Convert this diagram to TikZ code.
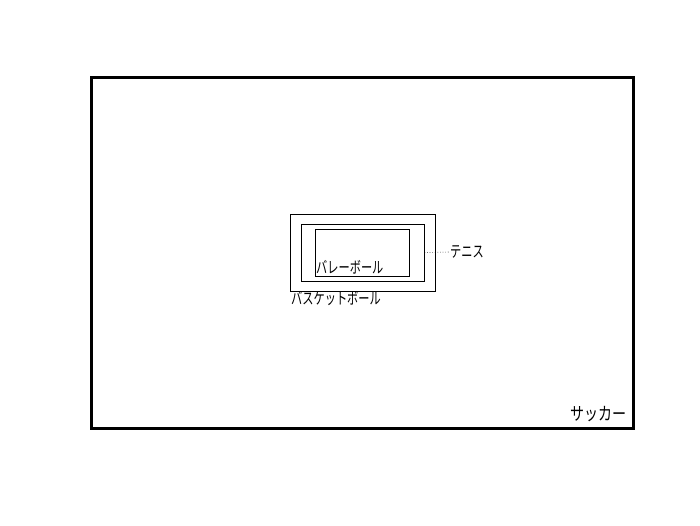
\documentclass[tikz,border=0pt]{standalone}
\usepackage{fontspec}
\newfontfamily\jp[FakeStretch=0.7]{Noto Sans CJK JP}
\newfontfamily\jpb[FakeStretch=0.78]{Noto Sans CJK JP}
\begin{document}
\begin{tikzpicture}[x=1pt,y=-1pt,
  setbox/.style={draw=black,line width=1pt,inner sep=0pt,minimum width=#1},
  lbl/.style={font=\jp\fontsize{16}{16}\selectfont,inner sep=0pt,anchor=west},
  biglbl/.style={font=\jpb\fontsize{18}{18}\selectfont,inner sep=0pt,anchor=west}]
\useasboundingbox (0,0) rectangle (700,525);
\node (soccer) [draw=black,line width=3pt,inner sep=0pt,minimum width=542pt,minimum height=351pt] at (362,252.5) {};
\node (basket) [setbox=145pt,minimum height=77pt,line width=0.8pt] at (362.5,252.5) {};
\node (tennis) [setbox=123pt,minimum height=57pt,line width=1pt] at (362.5,252.5) {};
\node (volley) [setbox=94pt,minimum height=47pt,line width=0.9pt] at (362,252.5) {};
\node (volleyl) [lbl] at (316,267) {バレーボール};
\node (basketl) [lbl] at (291,299) {バスケットボール};
\node (tennisl) [lbl] at (450,252) {テニス};
\node (soccerl) [biglbl] at (570,414) {サッカー};
\draw[dotted,line width=0.6pt] (tennis.east) -- (tennisl.west);
\end{tikzpicture}
\end{document}
